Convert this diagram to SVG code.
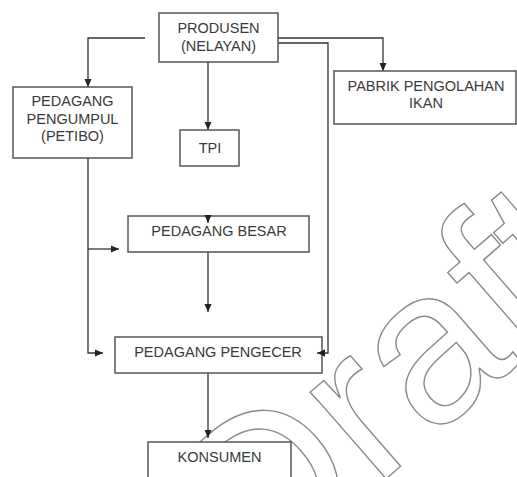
<svg xmlns="http://www.w3.org/2000/svg" width="517" height="477" viewBox="0 0 517 477">
<defs>
<marker id="ah" viewBox="0 0 8 8" refX="8" refY="4" markerWidth="8" markerHeight="8" markerUnits="userSpaceOnUse" orient="auto">
<path d="M0,0.5 L8,4 L0,7.5 Z" fill="#222"/>
</marker>
<style>
.box{fill:#fff;stroke:#555;stroke-width:1.5}
.t{font-family:"Liberation Sans",Arial,sans-serif;font-size:14.5px;fill:#3a3a3a;text-anchor:middle}
.c{fill:none;stroke:#333;stroke-width:1.3}
.wm{font-family:"Liberation Sans",Arial,sans-serif;font-size:218px;fill:none;stroke:#8a8a8a;stroke-width:1.4}
</style>
</defs>
<rect width="517" height="477" fill="#fff"/>
<text class="wm" transform="translate(256,592) rotate(-41)">Draft</text>
<g id="connectors">
<path class="c" d="M145,38 H88 V87" marker-end="url(#ah)"/>
<path class="c" d="M208,62 V130" marker-end="url(#ah)"/>
<path class="c" d="M272,38 H383 V71" marker-end="url(#ah)"/>
<path class="c" d="M272,43 H328 V353 H317" marker-end="url(#ah)"/>
<path class="c" d="M88,158 V353 H103" marker-end="url(#ah)"/>
<path class="c" d="M88,249 H119" marker-end="url(#ah)"/>
<path class="c" d="M208,252 V312" marker-end="url(#ah)"/>
<path class="c" d="M208,373 V438" marker-end="url(#ah)"/>
</g>
<g id="produsen">
<rect class="box" x="159" y="13" width="119" height="49"/>
<text class="t" x="218.5" y="33">PRODUSEN</text>
<text class="t" x="218.5" y="51">(NELAYAN)</text>
</g>
<g id="pengumpul">
<rect class="box" x="13" y="87" width="119" height="71"/>
<text class="t" x="72.5" y="106">PEDAGANG</text>
<text class="t" x="72.5" y="124">PENGUMPUL</text>
<text class="t" x="72.5" y="141">(PETIBO)</text>
</g>
<g id="pabrik">
<rect class="box" x="334" y="71" width="182" height="53"/>
<text class="t" x="426" y="91">PABRIK PENGOLAHAN</text>
<text class="t" x="426" y="108">IKAN</text>
</g>
<g id="tpi">
<rect class="box" x="180" y="130" width="59" height="36"/>
<text class="t" x="210" y="153">TPI</text>
</g>
<g id="besar">
<rect class="box" x="128" y="216" width="181" height="36"/>
<text class="t" x="219" y="236">PEDAGANG BESAR</text>
</g>
<path class="c" d="M208,216 V223" marker-end="url(#ah)"/>
<g id="pengecer">
<rect class="box" x="115" y="337" width="207" height="36"/>
<text class="t" x="218" y="357">PEDAGANG PENGECER</text>
</g>
<path class="c" d="M322,353 H317" marker-end="url(#ah)"/>
<g id="konsumen">
<rect class="box" x="148" y="442" width="143" height="40"/>
<text class="t" x="219.5" y="462">KONSUMEN</text>
</g>
</svg>
